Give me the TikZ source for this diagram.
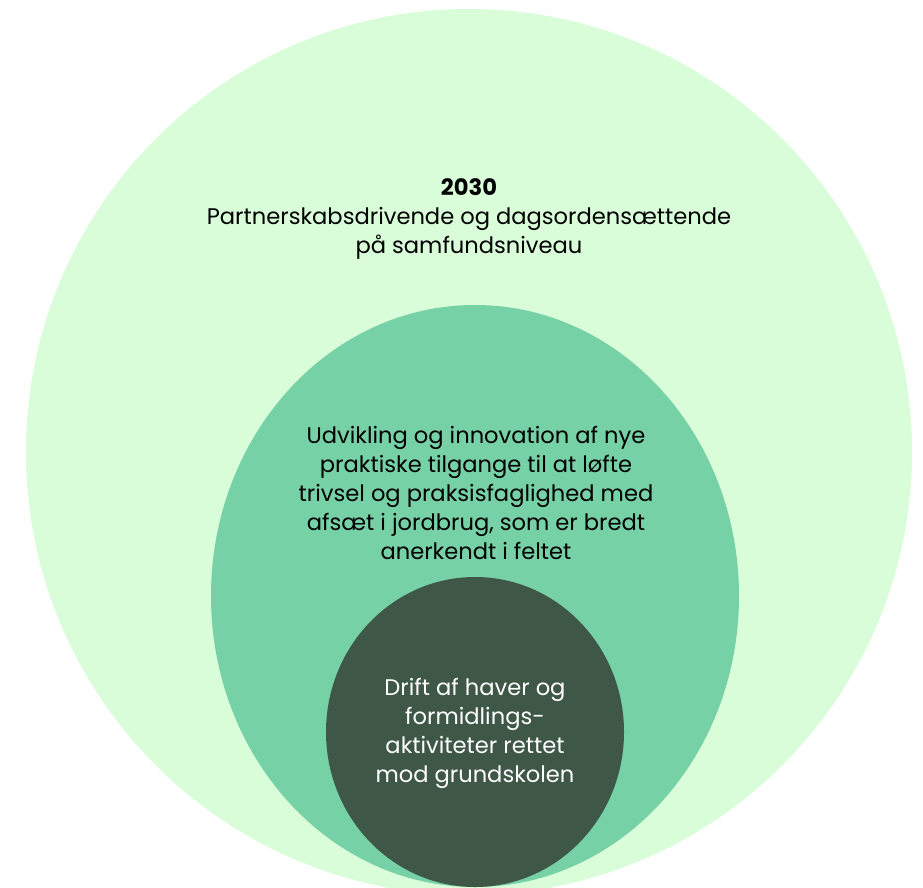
\documentclass[tikz,border=0pt]{standalone}
\usepackage{fontspec}
\setmainfont{Poppins}
\definecolor{outerc}{HTML}{D9FDD9}
\definecolor{midc}{HTML}{77D1A6}
\definecolor{innerc}{HTML}{3E5747}
\begin{document}
\begin{tikzpicture}[x=1pt,y=1pt,
  lbl/.style={align=center,font=\fontsize{22.6}{29}\selectfont,inner sep=0pt}]
\clip (0,0) rectangle (923,-888);
\fill[outerc] (469,-452) circle (443);
\fill[midc] (475,-596) ellipse [x radius=264, y radius=291];
\fill[innerc] (475,-732) ellipse [x radius=149, y radius=155];
\node[lbl] (outer) at (469,-219) {\textbf{2030}\\Partnerskabsdrivende og dagsordensættende\\på samfundsniveau};
\node[lbl] (mid) at (476,-493) {Udvikling og innovation af nye\\praktiske tilgange til at løfte\\trivsel og praksisfaglighed med\\afsæt i jordbrug, som er bredt\\anerkendt i feltet};
\node[lbl,text=white] (inner) at (475,-733) {Drift af haver og\\formidlings-\\aktiviteter rettet\\mod grundskolen};
\end{tikzpicture}
\end{document}
